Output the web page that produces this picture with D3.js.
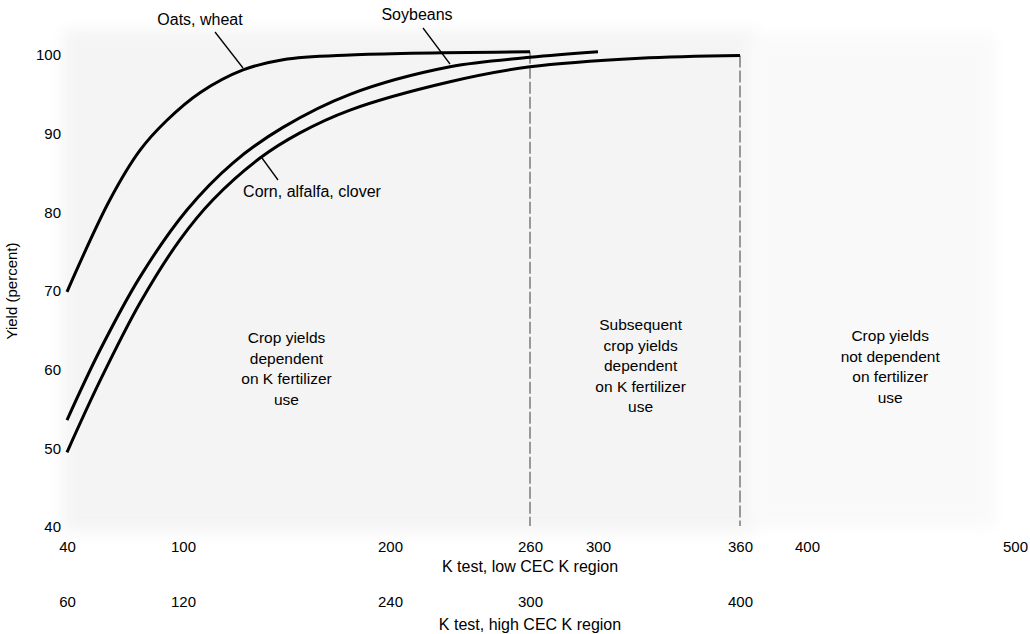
<!DOCTYPE html>
<html>
<head>
<meta charset="utf-8">
<script src="https://cdn.jsdelivr.net/npm/d3@7/dist/d3.min.js"></script>
<style>
  html, body { margin: 0; padding: 0; background: #fff; }
  svg { display: block; font-family: "Liberation Sans", Arial, Helvetica, sans-serif; }
</style>
</head>
<body>
<svg id="chart" width="1030" height="634"></svg>
<script>
// ---------- data ----------
const xLowTicks = [40, 100, 200, 260, 300, 360, 400, 500];
const xHighTicks = [60, 120, 240, 300, 400];
const xHighEquivalentLow = [40, 100, 200, 260, 360];
const yTicks = [40, 50, 60, 70, 80, 90, 100];

const oatsK     = [40, 62.2, 77.8, 91.7, 108.2, 129, 148.3, 180.7, 260];
const oatsYield = [69.9, 81.6, 87.9, 91.7, 95.2, 98.1, 99.4, 100.0, 100.4];

const soyK      = [40, 57.1, 77.8, 101.9, 124.2, 148.3, 180.7, 225.7, 260, 300];
const soyYield  = [53.6, 62.5, 71.8, 80.3, 86.3, 90.8, 95.0, 98.5, 99.7, 100.4];

const cornK     = [40, 57.1, 77.8, 98.4, 114.5, 137.2, 156.5, 180.7, 225.7, 260, 317.7, 360];
const cornYield = [49.5, 58.6, 68.5, 76.5, 81.6, 86.9, 90.1, 93.0, 96.6, 98.5, 99.6, 99.95];

const boundaries = [260, 360];

const regionTexts = [
  { k: 150, lines: ["Crop yields", "dependent", "on K fertilizer", "use"], top: 338 },
  { k: 318, lines: ["Subsequent", "crop yields", "dependent", "on K fertilizer", "use"], top: 325 },
  { k: 440, lines: ["Crop yields", "not dependent", "on fertilizer", "use"], top: 336 }
];

// ---------- layout ----------
const svg = d3.select("#chart");
const xPos = [67, 183, 390, 530, 598, 740, 807, 1015];
const x = d3.scaleLinear().domain(xLowTicks).range(xPos);
const xHigh = d3.scaleLinear().domain(xHighTicks).range(xHighEquivalentLow.map(x));
const y = d3.scaleLinear().domain([40, 100]).range([527, 55]);

// faint background wash
const defs = svg.append("defs");
const f = defs.append("filter").attr("id", "blur").attr("x", "-10%").attr("y", "-10%").attr("width", "120%").attr("height", "120%");
f.append("feGaussianBlur").attr("stdDeviation", 8);
svg.append("rect")
  .attr("x", x(40) - 4).attr("y", y(100) - 25)
  .attr("width", x(360) - x(40) + 20).attr("height", y(40) - y(100) + 30)
  .attr("fill", "#f4f4f4").attr("filter", "url(#blur)");
svg.append("rect")
  .attr("x", x(360) + 10).attr("y", y(100) - 20)
  .attr("width", x(500) - x(360) - 30).attr("height", y(40) - y(100) + 20)
  .attr("fill", "#f9f9f9").attr("filter", "url(#blur)");

// dashed boundaries
const curveEndY = { 260: y(100.4), 360: y(99.95) };
svg.selectAll("line.bound").data(boundaries).enter().append("line")
  .attr("class", "bound")
  .attr("x1", d => x(d)).attr("x2", d => x(d))
  .attr("y1", d => curveEndY[d]).attr("y2", y(40) - 1)
  .attr("stroke", "#7a7a7a").attr("stroke-width", 1.5)
  .attr("stroke-dasharray", "12,3");

// curves
const line = d3.line().x(d => x(d[0])).y(d => y(d[1])).curve(d3.curveCatmullRom.alpha(0.5));
const series = [
  d3.zip(oatsK, oatsYield),
  d3.zip(soyK, soyYield),
  d3.zip(cornK, cornYield)
];
svg.selectAll("path.curve").data(series).enter().append("path")
  .attr("class", "curve")
  .attr("d", line)
  .attr("fill", "none").attr("stroke", "#000").attr("stroke-width", 3)
  .attr("stroke-linejoin", "round");

// axes (labels only)
const gxLow = svg.append("g").attr("transform", "translate(0,538)")
  .call(d3.axisBottom(x).tickValues(xLowTicks).tickSize(0).tickFormat(d3.format("d")));
const gxHigh = svg.append("g").attr("transform", "translate(0,593)")
  .call(d3.axisBottom(xHigh).tickValues(xHighTicks).tickSize(0).tickFormat(d3.format("d")));
const gy = svg.append("g").attr("transform", "translate(61,0)")
  .call(d3.axisLeft(y).tickValues(yTicks).tickSize(0).tickPadding(0).tickFormat(d3.format("d")));
[gxLow, gxHigh, gy].forEach(g => {
  g.select(".domain").remove();
  g.selectAll("text").attr("font-size", 15).attr("fill", "#000")
    .attr("font-family", "Liberation Sans, Arial, sans-serif");
});

// axis titles
svg.append("text").attr("x", x(260)).attr("y", 572).attr("text-anchor", "middle")
  .attr("font-size", 16).text("K test, low CEC K region");
svg.append("text").attr("x", x(260)).attr("y", 630).attr("text-anchor", "middle")
  .attr("font-size", 16).text("K test, high CEC K region");
svg.append("text").attr("transform", `translate(17,${y(70)}) rotate(-90)`)
  .attr("text-anchor", "middle").attr("font-size", 15).text("Yield (percent)");

// curve labels with pointers
const labels = [
  { text: "Oats, wheat", tx: 200, ty: 25, p1: [215, 32], p2: [243, 68] },
  { text: "Soybeans", tx: 417, ty: 20, p1: [423, 28], p2: [450, 64] },
  { text: "Corn, alfalfa, clover", tx: 312, ty: 197, p1: [262, 158], p2: [278, 180] }
];
svg.selectAll("line.ptr").data(labels).enter().append("line")
  .attr("x1", d => d.p1[0]).attr("y1", d => d.p1[1])
  .attr("x2", d => d.p2[0]).attr("y2", d => d.p2[1])
  .attr("stroke", "#000").attr("stroke-width", 1.3);
svg.selectAll("text.lbl").data(labels).enter().append("text")
  .attr("x", d => d.tx).attr("y", d => d.ty).attr("text-anchor", "middle")
  .attr("font-size", 16).text(d => d.text);

// region texts
regionTexts.forEach(r => {
  const t = svg.append("text").attr("text-anchor", "middle").attr("font-size", 15.5);
  r.lines.forEach((ln, i) => {
    t.append("tspan").attr("x", x(r.k)).attr("y", r.top + 5 + i * 20.5).text(ln);
  });
});
</script>
</body>
</html>
